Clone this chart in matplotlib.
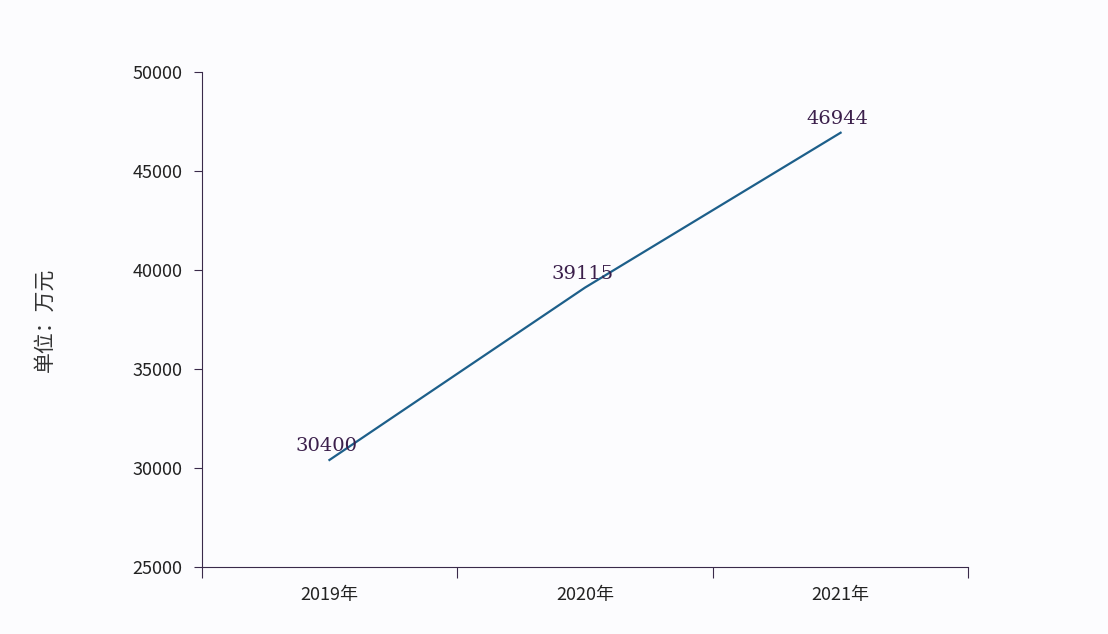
import numpy as np
import matplotlib.pyplot as plt

plt.rcParams["font.family"] = ["Noto Sans CJK SC", "DejaVu Sans"]

years = ["2019年", "2020年", "2021年"]
values = [30400, 39115, 46944]

fig = plt.figure(figsize=(11.08, 6.34), dpi=100, facecolor="#fcfcfe")
ax = fig.add_axes([0.182, 0.106, 0.692, 0.78])
ax.set_facecolor("#fcfcfe")

x = np.arange(len(years)) + 0.5
ax.plot(x, values, color="#1d5f8a", linewidth=1.6)
for xi, v in zip(x, values):
    ax.annotate(str(v), (xi, v), xytext=(-2, 10), textcoords="offset points",
                ha="center", va="center", fontsize=14,
                family="DejaVu Serif", color="#3b1f4b")

ax.set_xlim(0, 3)
ax.set_ylim(25000, 50000)
ax.set_yticks(np.arange(25000, 50001, 5000))
ax.set_xticks([0, 1, 2, 3])
ax.set_xticklabels([])
ax.set_xticks(x, minor=True)
ax.set_xticklabels(years, minor=True)
ax.tick_params(axis="x", which="minor", length=0, pad=14, labelsize=13, colors="#222222")
ax.tick_params(axis="x", which="major", length=8, color="#3a2a4a")
ax.tick_params(axis="y", length=6, pad=8, labelsize=13, colors="#222222")
ax.tick_params(axis="y", color="#3a2a4a")
for s in ["top", "right"]:
    ax.spines[s].set_visible(False)
for s in ["left", "bottom"]:
    ax.spines[s].set_color("#3a2a4a")
ax.set_ylabel("单位：万元", fontsize=15, color="#333333", labelpad=55)

fig.savefig("out.png", dpi=100, facecolor=fig.get_facecolor())
